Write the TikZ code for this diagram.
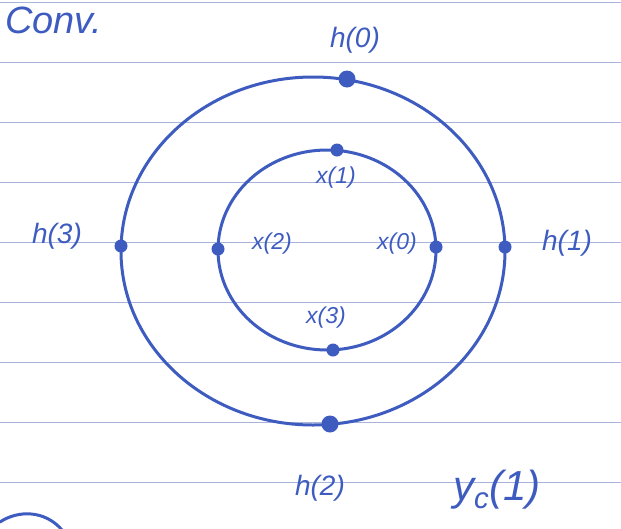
\documentclass[tikz,border=0pt]{standalone}
\usepackage{fontspec}
\setmainfont{Liberation Sans}
\begin{document}
\begin{tikzpicture}[x=1pt,y=-1pt,
  ink/.style={draw=inkblue,line width=3pt,line cap=round},
  rule/.style={draw=ruleblue,line width=0.9pt},
  bigdot/.style={circle,fill=inkblue,inner sep=0pt,minimum size=17pt},
  smalldot/.style={circle,fill=inkblue,inner sep=0pt,minimum size=13pt},
  lbl/.style={text=inkblue,font=\fontsize{23}{23}\selectfont\itshape,inner sep=1pt},
  hlbl/.style={lbl,font=\fontsize{28}{28}\selectfont\itshape}]
\definecolor{inkblue}{HTML}{3E5CC0}
\definecolor{ruleblue}{HTML}{A8B3D8}
\useasboundingbox (0,0) rectangle (621,528);
\fill[white] (0,0) rectangle (621,528);
% ruled lines of the paper
\foreach \y in {2,62,122,182,242,302,362,422,482}
  \draw[rule] (0,\y) -- (621,\y);
% outer loop
\draw[ink] (313,251) ellipse [x radius=192, y radius=174];
% inner loop
\draw[ink] (327,250) ellipse [x radius=109, y radius=100];
% dots on the outer loop
\node[bigdot] (h0) at (347,79) {};
\node[smalldot] (h1) at (505,247) {};
\node[bigdot] (h2) at (330,424) {};
\node[smalldot] (h3) at (121,246) {};
% dots on the inner loop
\node[smalldot] (x1) at (337,150) {};
\node[smalldot] (x0) at (436,247) {};
\node[smalldot] (x3) at (333,350) {};
\node[smalldot] (x2) at (218,249) {};
% labels
\node[lbl,anchor=west,font=\fontsize{38}{38}\selectfont\itshape] (conv) at (4,20) {Conv.};
\node[hlbl] (lh0) at (355,40) {h(0)};
\node[hlbl] (lh1) at (567,243) {h(1)};
\node[hlbl] (lh2) at (320,488) {h(2)};
\node[hlbl] (lh3) at (57,236) {h(3)};
\node[lbl] (lx1) at (336,178) {x(1)};
\node[lbl] (lx2) at (272,244) {x(2)};
\node[lbl] (lx0) at (397,244) {x(0)};
\node[lbl] (lx3) at (326,318) {x(3)};
\node[lbl,font=\fontsize{42}{42}\selectfont\itshape] (yc) at (497,490) {y\textsubscript{c}(1)};
% partial loop at the lower left corner
\draw[ink] (0,522) .. controls (18,510) and (45,510) .. (62,530);
\end{tikzpicture}
\end{document}
